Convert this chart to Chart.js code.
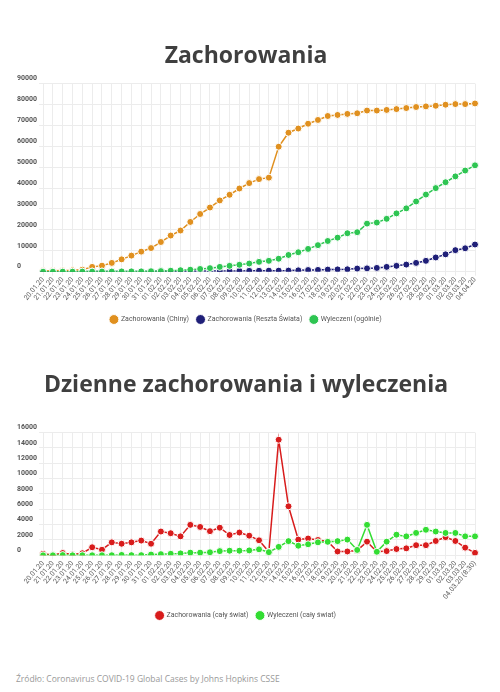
<!DOCTYPE html>
<html>
<head>
<meta charset="utf-8">
<script src="https://cdn.jsdelivr.net/npm/chart.js@4"></script>
<style>
  body { margin: 0; background: #fff; width: 500px; height: 692px; position: relative; overflow: hidden; }
  .box { position: absolute; left: 0; width: 500px; }
  #box1 { top: 30px; height: 303px; }
  #box2 { top: 355px; height: 274px; }
  #source { position: absolute; left: 16px; top: 673px; font: 8.5px "Open Sans", sans-serif; color: #999; }
</style>
</head>
<body>
<div class="box" id="box1"><canvas id="totalChart"></canvas></div>
<div class="box" id="box2"><canvas id="dailyChart"></canvas></div>
<div id="source">Źródło: Coronavirus COVID-19 Global Cases by Johns Hopkins CSSE</div>
<script>
const dates1 = ['20.01.20', '21.01.20', '22.01.20', '23.01.20', '24.01.20', '25.01.20', '26.01.20', '27.01.20',
    '28.01.20', '29.01.20', '30.01.20', '31.01.20', '01.02.20', '02.02.20', '03.02.20', '04.02.20', '05.02.20',
    '06.02.20', '07.02.20', '08.02.20', '09.02.20', '10.02.20', '11.02.20', '12.02.20', '13.02.20', '14.02.20',
    '15.02.20', '16.02.20', '17.02.20', '18.02.20', '19.02.20', '20.02.20', '21.02.20', '22.02.20', '23.02.20',
    '24.02.20', '25.02.20', '26.02.20', '27.02.20', '28.02.20', '29.02.20', '01.03.20', '02.03.20', '03.03.20',
    '04.04.20'];
const dates2 = dates1.slice(0, 44).concat(['04.03.20 (8:30)']);

// Zachorowania - wykres narastajacy
const casesChina = [300, 400, 550, 650, 950, 2300, 2900, 4200, 5900, 7700, 9600, 11300, 14200, 17300, 19700,
    23800, 27600, 30700, 34100, 36800, 39800, 42400, 44300, 45000, 59800, 66500, 68500, 70800, 72600, 74500,
    75000, 75500, 75800, 77100, 77100, 77400, 77800, 78300, 78800, 79100, 79400, 79900, 80200, 80200, 80500];
const casesWorld = [5, 8, 10, 15, 25, 40, 55, 70, 90, 110, 130, 150, 170, 190, 210, 240, 270, 300, 330, 360,
    390, 400, 450, 500, 500, 520, 650, 800, 850, 1000, 1100, 1150, 1500, 1600, 1800, 2300, 2800, 3400, 4200,
    5200, 6800, 8300, 10300, 11200, 13000];
const recovered = [0, 0, 30, 30, 40, 40, 50, 60, 110, 130, 140, 220, 280, 470, 700, 950, 1300, 1700, 2300,
    2800, 3300, 3900, 4700, 5200, 6200, 8000, 9300, 10900, 12700, 14700, 16300, 18400, 18900, 23000, 23500,
    25300, 27900, 30300, 33600, 36900, 40000, 42800, 45600, 48400, 50900];

// dzienne
const dailyCases = [200, 50, 300, 100, 270, 1050, 730, 1690, 1510, 1690, 1920, 1510, 3100, 2880, 2470, 3970,
    3700, 3150, 3600, 2650, 2970, 2560, 1960, 460, 15070, 6390, 2050, 2190, 2000, 1800, 500, 500, 640, 1780,
    460, 550, 820, 910, 1320, 1320, 1870, 2370, 1870, 1000, 320];
const dailyRecovered = [0, 0, 30, 0, 10, 5, 10, 10, 50, 20, 20, 100, 150, 200, 250, 350, 350, 400, 550, 600,
    600, 640, 780, 410, 1100, 1850, 1250, 1440, 1690, 1760, 1850, 2050, 700, 3970, 460, 1780, 2690, 2470,
    2920, 3330, 3100, 2920, 2920, 2470, 2470];

const tickColor = '#555';
const gridColor = '#ececec';

function line(label, data, color) {
    return {
        label: label,
        data: data,
        borderColor: color,
        backgroundColor: color,
        borderWidth: 1.5,
        pointRadius: 3.5,
        pointBorderColor: '#fff',
        pointBorderWidth: 1,
        pointHoverRadius: 4,
        tension: 0,
        fill: false
    };
}

// datasets are listed green-first so green is drawn on top, legend is reversed back
function options(title, yMax, yStep, titlePad, xExtra) {
    return {
        responsive: true,
        maintainAspectRatio: false,
        animation: false,
        layout: { padding: { left: 17, right: 25, top: 0, bottom: 0 } },
        scales: {
            x: {
                grid: { color: gridColor, tickLength: 4 },
                border: { display: false },
                ticks: { color: tickColor, font: { family: 'Roboto', size: 7 }, maxRotation: 50, minRotation: 50, autoSkip: false, padding: 0 },
                afterFit: (scale) => { scale.height += xExtra; }
            },
            y: {
                min: 0,
                max: yMax,
                grid: { color: gridColor, tickLength: 4 },
                border: { display: false },
                ticks: { stepSize: yStep, color: tickColor, crossAlign: 'far', labelOffset: -5, padding: 1,
                    font: { family: 'Roboto', size: 7, weight: 'bold' },
                    callback: (v) => v }
            }
        },
        plugins: {
            title: {
                display: true,
                text: title,
                color: '#3f3f3f',
                font: { family: 'Open Sans', size: 23, weight: 'bold' },
                padding: titlePad
            },
            legend: {
                display: true,
                position: 'bottom',
                reverse: true,
                labels: { usePointStyle: true, pointStyle: 'circle', boxWidth: 8, boxHeight: 8, padding: 8,
                    color: '#555', font: { family: 'Roboto', size: 7 } }
            },
            tooltip: { enabled: false }
        }
    };
}

new Chart(document.getElementById('totalChart'), {
    type: 'line',
    data: {
        labels: dates1,
        datasets: [
            line('Wyleczeni (ogólnie)', recovered, '#2ec552'),
            line('Zachorowania (Reszta Świata)', casesWorld, '#1f1f78'),
            line('Zachorowania (Chiny)', casesChina, '#e0901f')
        ]
    },
    options: options('Zachorowania', 90000, 10000, { top: 13, bottom: 13 }, 6)
});

new Chart(document.getElementById('dailyChart'), {
    type: 'line',
    data: {
        labels: dates2,
        datasets: [
            line('Wyleczeni (cały świat)', dailyRecovered, '#33dd33'),
            line('Zachorowania (cały świat)', dailyCases, '#d81c1c')
        ]
    },
    options: options('Dzienne zachorowania i wyleczenia', 16000, 2000, { top: 17, bottom: 33 }, 3)
});
</script>
</body>
</html>
